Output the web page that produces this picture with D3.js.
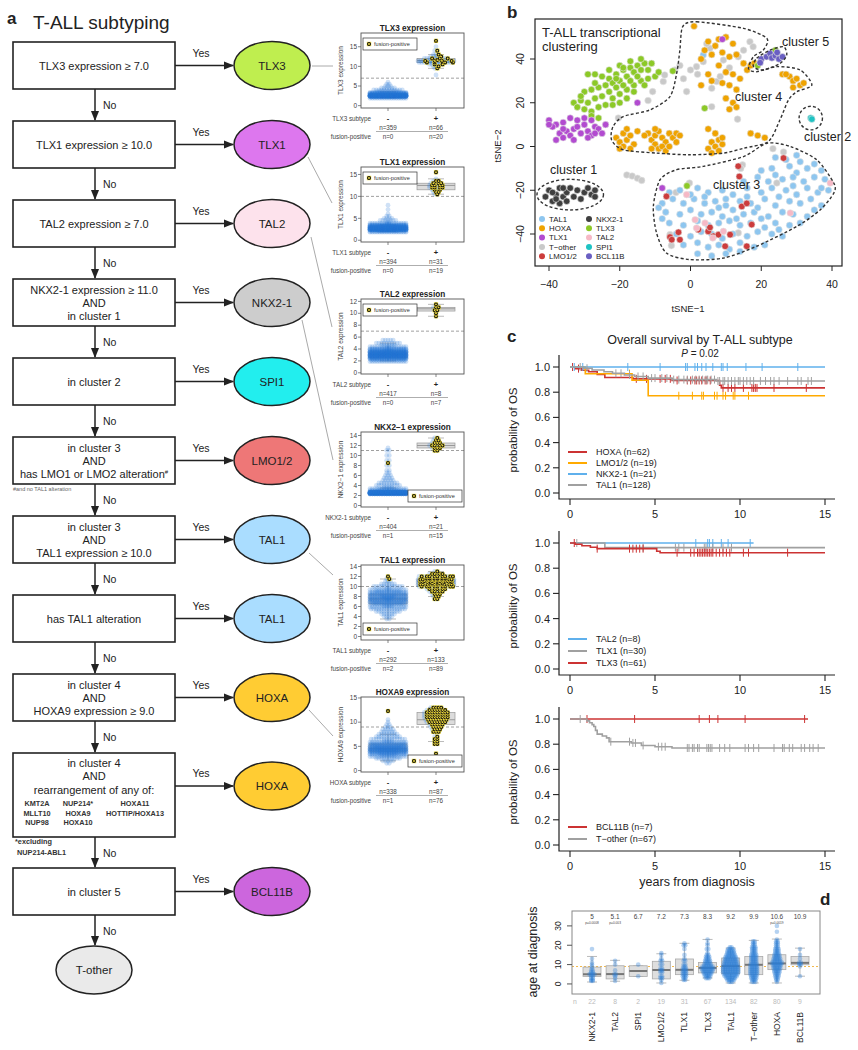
<!DOCTYPE html>
<html><head><meta charset="utf-8">
<script src="https://cdn.jsdelivr.net/npm/d3@7"></script>
<style>body{margin:0;background:#fff}svg{display:block;font-family:"Liberation Sans",Arial,sans-serif}</style>
</head><body><svg id="c" width="858" height="1050"></svg>
<script>
// ================= DATA =================
// Panel a: flowchart
const flowRules = [["TLX3 expression \u2265 7.0"],["TLX1 expression \u2265 10.0"],["TAL2 expression \u2265 7.0"],
  ["NKX2-1 expression \u2265 11.0","AND","in cluster 1"],["in cluster 2"],["in cluster 3","AND","has LMO1 or LMO2 alteration#"],
  ["in cluster 3","AND","TAL1 expression \u2265 10.0"],["has TAL1 alteration"],["in cluster 4","AND","HOXA9 expression \u2265 9.0"],
  ["in cluster 4","AND","rearrangement of any of:"],["in cluster 5"]];
const flowSubtypes = ["TLX3","TLX1","TAL2","NKX2-1","SPI1","LMO1/2","TAL1","TAL1","HOXA","HOXA","BCL11B"];
const flowGenes = [["KMT2A","NUP214*","HOXA11"],["MLLT10","HOXA9","HOTTIP/HOXA13"],["NUP98","HOXA10",""]];
const ellipseColors = {"TLX3":"#bfee4f","TLX1":"#dd77ee","TAL2":"#fde2ec","NKX2-1":"#cdcdcd","SPI1":"#22eeee",
  "LMO1/2":"#ee7777","TAL1":"#aaddff","HOXA":"#ffcc33","BCL11B":"#cc66dd","T-other":"#eaeaea"};

// Panel a: expression plots
const exprGenes = ["TLX3","TLX1","TAL2","NKX2\u22121","TAL1","HOXA9"];
const exprSubtype = ["TLX3 subtype","TLX1 subtype","TAL2 subtype","NKX2-1 subtype","TAL1 subtype","HOXA subtype"];
const exprThreshold = [7,10,7,11,10,9];
const exprTicks = [[0,5,10,15],[0,5,10,15],[0,2,4,6,8,10,12],[0,2,4,6,8,10,12,14],[0,2,4,6,8,10,12,14],[0,5,10,15]];
const nNeg = [359,394,417,404,292,338], nPos = [66,31,8,21,133,87];
const fusNeg = [0,0,0,1,2,1], fusPos = [20,19,7,15,89,76];
// bins: [expression value, count, fusion-positive count]
const negBins = [
 [[2,30,0],[2.5,200,0],[3,80,0],[3.5,25,0],[4,12,0],[4.5,6,0],[5,3,0],[5.5,2,0],[6,1,0]],
 [[2,40,0],[2.5,150,0],[3,120,0],[3.5,50,0],[4,18,0],[4.5,7,0],[5,4,0],[5.5,2,0],[6,1,0],[7,1,0],[8,1,0]],
 [[2,30,0],[2.5,80,0],[3,120,0],[3.5,100,0],[4,50,0],[4.5,22,0],[5,10,0],[5.5,5,0]],
 [[2.5,300,0],[3,40,0],[3.5,20,0],[4,10,0],[4.5,8,0],[5,5,0],[5.5,4,0],[6,3,0],[6.5,2,0],[7,2,0],[8,2,0],[8.5,1,1],[9,2,0],[10,2,0],[11,2,0],[11.5,1,0]],
 [[3.5,2,0],[4,4,0],[4.5,6,0],[5,10,0],[5.5,14,0],[6,20,0],[6.5,28,0],[7,34,0],[7.5,36,0],[8,38,0],[8.5,32,0],[9,26,0],[9.5,18,0],[10,12,0],[10.5,6,0],[11,3,0],[11.5,2,1],[12,1,1]],
 [[1.5,2,0],[2,5,0],[2.5,10,0],[3,22,0],[3.5,40,0],[4,55,0],[4.5,58,0],[5,45,0],[5.5,30,0],[6,20,0],[6.5,14,0],[7,10,0],[7.5,8,0],[8,6,0],[8.5,5,0],[9,3,0],[9.5,2,0],[10,1,0],[10.5,1,0],[12.3,1,1]]
];
const posBins = [
 [[7.8,1,0],[9.5,2,1],[10,3,1],[10.5,6,2],[11,14,4],[11.5,18,5],[12,10,3],[12.5,5,1],[13,3,1],[14,2,1],[15,1,0],[16.5,1,1]],
 [[10.5,2,1],[11,3,2],[11.5,4,2],[12,6,4],[12.5,6,4],[13,5,3],[13.5,3,2],[14,1,0],[15.5,1,1]],
 [[9.5,1,1],[10,1,1],[10.5,2,2],[11,3,2],[11.5,1,1]],
 [[11,2,2],[11.5,4,3],[12,6,4],[12.5,4,3],[13,3,2],[13.5,2,1]],
 [[7.5,2,2],[8,3,2],[8.5,4,3],[9,6,4],[9.5,8,5],[10,14,9],[10.5,22,15],[11,28,19],[11.5,24,16],[12,14,9],[12.5,6,4],[13,2,1]],
 [[3.5,1,1],[5.5,2,2],[6,2,2],[6.5,2,2],[7,2,1],[8,3,3],[8.5,4,3],[9,5,4],[9.5,6,5],[10,8,7],[10.5,9,8],[11,10,9],[11.5,10,9],[12,10,9],[12.5,8,7],[13,5,4]]
];

// Panel b: tSNE coordinates per subtype
const tsneTother = [[0,35],[1.7,36.5],[3.6,38.8],[5.5,44.9],[4.6,47],[9.3,39.5],[13.5,41],[16.8,47.9],[17.7,45.6],[7.4,29.7],[6,26.6],[8.4,32],[-7.7,29.7],[-1.1,25.1],[-4.4,35],[-7.3,32.7],[-10.7,25.1],[-20.4,13],[6,18.2],[13.3,12.5],[23.3,-1],[26.3,-2.5],[-18,-13],[-16.5,-13.5],[-15,-14.5],[-13.8,-15.5],[-0.3,-16.7],[-4.1,-21],[-5.8,-40.3],[-5.4,-45.3],[13.5,-39.5],[24.4,-16.7],[14.7,-8.4],[14.2,-10],[2,33],[-2,31],[11,36],[-12,21],[15,44],[-3,37]];
const tsneTAL1 = [[24,-5],[27,-6],[31,-7],[35,-8],[20,-11],[23,-10],[28,-9],[33,-10],[37,-11],[30,-12],[15,-16],[19,-14],[22,-16],[26,-15],[29,-14],[32,-16],[35,-14],[38,-15],[24,-13],
 [-6,-21],[-3,-20],[2,-19],[5,-21],[9,-20],[12,-22],[16,-19],[20,-21],[23,-19],[27,-20],[30,-22],[33,-19],[36,-21],[39,-20],[25,-23],
 [-8,-26],[-5,-24],[-2,-26],[1,-24],[4,-26],[7,-25],[10,-27],[14,-25],[17,-26],[21,-24],[24,-27],[28,-25],[31,-26],[34,-24],[37,-27],
 [-7,-30],[-3,-31],[0,-29],[3,-31],[6,-30],[9,-32],[12,-29],[15,-31],[18,-30],[22,-32],[26,-30],[29,-31],[33,-32],[19,-28],
 [-6,-35],[-2,-36],[2,-34],[5,-36],[8,-35],[11,-34],[14,-36],[17,-35],[21,-37],[24,-35],[28,-36],[31,-35],
 [-4,-40],[0,-41],[3,-39],[6,-40],[9,-42],[12,-40],[16,-41],[19,-39],[23,-40],[26,-41],
 [-2,-45],[2,-44],[5,-46],[8,-45],[11,-47],[14,-44],[18,-46],[21,-45],[2,-49],[6,-50],[10,-49],[14,-48],
 [-9,-28],[-8,-33],[0,-22],[4,-23],[8,-28],[13,-33],[16,-23],[20,-33],[25,-38],[29,-18],[35,-29],[30,-4],[3.6,41.8],[37,-19],[10,-24]];
const tsneHOXA = [[-21,4],[-20,2],[-19,6],[-18,3],[-17,5],[-16,1],[-19,0],[-20,-1],[-17,-1],[-15,7],[-18,8],
 [-12,6],[-11,3],[-10,5],[-9,7],[-8,4],[-7,2],[-6,6],[-5,4],[-4,2],[-10,1],[-9,-1],[-8,0],[-7,-2],[-11,-1],[-6,0],[-4,6],[-3,5],[-13,5],[-10,8],
 [5,8],[7,6],[8,3],[6,2],[9,1],[7,0],[5,-1],[8,-2],[6,-3],[9,4],
 [1,55],[5,48],[8,49],[10,50],[12,47],[7,46],[4,44],[3,40],[6,42],[9,43],[11,41],[13,42],[15,38],[8,37],[10,34],[12,33],[14,31],[5,33],[3,28],[6,30],[9,29],[11,28],[13,26],[16,35],[17,37],[18,38],
 [10,22],[12,20],[13,18],[11,17],[28,32],[29,30],[30,31],[31,28],[32,29],[29,27],[17,6],[19,5],[21,4],[26,33],[27,33]];
const tsneTLX3 = [[-29,33],[-27,33],[-25,32],[-23,31],[-21,33],[-19,35],[-17,36],[-15,37],[-13,38],[-11,38],[-14,35],[-16,34],[-18,32],[-20,30],[-22,29],[-24,28],[-26,27],[-28,26],[-30,25],[-31,21],[-33,20],[-32,18],[-30,17],[-28,16],[-26,18],[-24,19],[-22,22],[-20,24],[-18,26],[-16,28],[-14,30],[-12,31],[-10,32],[-15,32],[-17,30],[-19,28],[-21,27],[-23,25],[-25,23],[-27,22],[-29,20],[-31,23],[-27,29],[-23,35],[-20,37],[-17,39],[-14,40],[-12,35],[-9,34],[-13,28],[-16,25],[-18,22],[-20,20],[-22,19],[-26,13],[-28,14],[-19,36],[-21,31],[-5,34.5],[-1,-18],[19,37],[24,44],[4,17.5]];
const tsneTLX1 = [[-40,12],[-38,10],[-36,11],[-34,13],[-32,12],[-30,13],[-28,12],[-27,9],[-29,7],[-31,6],[-33,8],[-35,7],[-37,6],[-39,9],[-36,4],[-34,5],[-32,9],[-30,10],[-28,5],[-26,8],[-24,10],[-25,6],[-38,3],[-33,3],[-36,8],[-40,10],[-29,4],[-27,6],[9,49],[-15,20],[-8,-19]];
const tsneNKX21 = [[-41,-23],[-40,-20],[-39,-25],[-38,-22],[-37,-19],[-37,-26],[-36,-23],[-35,-21],[-35,-25],[-34,-19],[-33,-23],[-32,-20],[-31,-24],[-30,-21],[-29,-19],[-28,-22],[-27,-20],[-39,-21],[-38,-24],[-36,-19],[-27,-23]];
const tsneLMO = [[13.5,-9],[13.8,-13.7],[26.3,-5.3],[-6.8,-22.8],[14.5,-27.4],[15.9,-26],[17.3,-35.7],[-5.8,-41.4],[-3.4,-39.2],[-3,-42.6],[2.2,-38],[5,-38.8],[6.5,-41],[7.9,-40.3],[11.2,-40.3],[15.9,-45.6],[9.8,-45.6],[-5.3,-42.6],[5.5,-37]];
const tsneTAL2 = [[-1.1,-22],[39.5,-16.7],[28.2,-30.4],[1.3,-33.5],[4.1,-35],[6.3,-41.8],[9.3,-38.8],[1.7,-37.3]];
const tsneSPI1 = [[34,13],[34.3,12.5]];
const tsneBCL11B = [[20,40],[21.5,41],[22.5,42.5],[23,40.5],[24,41.5],[25,40],[26,41],[24.5,43],[19.7,38.3]];
const cluster3 = [[-8.6,-15.2],[-3.9,-10.6],[3.6,-9.1],[15,-4.6],[21.6,1.5],[28.2,0],[35.7,-6.1],[40.5,-16.7],[40.5,-21.3],[36.7,-28.9],[30.1,-36.5],[18.7,-45.6],[9.3,-51],[-0.2,-51.7],[-6.8,-48.7],[-9.6,-39.5],[-10.5,-27.4]];
const cluster4 = [[-2.2,54.8],[1.7,57],[15,54],[21.6,49.4],[20.6,44.1],[17.8,41.1],[16.4,35.7],[18.7,34.2],[24.4,36.5],[31,35],[34.3,28.1],[30.1,25.1],[27.7,21.3],[25.3,12.2],[22,2.3],[15,-0.8],[9.3,-3],[-0.2,-3.8],[-9.6,-3],[-19,-1.5],[-22.3,3],[-21.9,9.1],[-19,13.7],[-11.5,16.7],[-5.8,22.8],[-3.9,33.5],[-3,44.1]];
const cluster5 = [[17.8,36.5],[18.7,40.3],[22.5,44.1],[26.3,45.6],[27.2,41.8],[25.3,38],[20.6,35]];
const cluster1 = {cx:-34, cy:-22, rx:9.4, ry:7};
const cluster2 = {cx:34, cy:13, rx:3.3, ry:5.4};

// Panel c: Kaplan-Meier (steps [time, survival], censor times)
const km1 = [
 {name:"HOXA (n=62)", color:"#cc3333", end:15, steps:[[0,1],[0.3,0.987],[0.7,0.974],[1.1,0.962],[1.6,0.94],[2.05,0.917],[3.7,0.906],[6.0,0.893],[8.8,0.855],[8.9,0.834]],
  cens:[0.15,0.5,3.9,4.5,5.3,5.6,5.9,6.3,6.9,7.1,7.35,7.45,7.6,7.75,7.95,8.05,8.25,9.0,9.3,9.5,9.7,10.2,10.7,10.8,10.9,11.0,12.0,13.9]},
 {name:"LMO1/2 (n=19)", color:"#ffaa00", end:15, steps:[[0,1],[0.9,0.947],[3.65,0.895],[4.6,0.772]],
  cens:[3.5,6.4,7.2,7.75,7.85,8.5,8.65,9.0,9.15,9.6,9.7,10.5]},
 {name:"NKX2-1 (n=21)", color:"#5fb0ec", end:15, steps:[[0,1]],
  cens:[0.25,0.75,3.4,5.3,6.8,6.9,7.35,7.5,7.75,8.0,8.4,8.9,9.0,9.25,10.35,11.3,13.4]},
 {name:"TAL1 (n=128)", color:"#a0a0a0", end:15, steps:[[0,1],[0.8,0.99],[1.3,0.976],[2.0,0.962],[2.5,0.95],[3.2,0.937],[3.8,0.925],[4.6,0.912],[6.0,0.9],[8.6,0.889]],
  cens:[0.6,1.0,2.7,3.0,3.5,4.0,4.3,4.8,5.0,5.4,5.7,6.1,6.4,6.7,6.9,7.2,7.4,7.6,7.8,8.0,8.1,8.3,8.5,8.7,8.8,9.0,9.1,9.3,9.5,9.7,9.9,10.0,10.2,10.4,10.6,10.8,11.2,11.5,11.8,12.0,12.3,12.8,13.4,13.6,14.0,14.2]}
];
const km2 = [
 {name:"TAL2 (n=8)", color:"#5fb0ec", end:10.8, steps:[[0,1]], cens:[7.4,8.1,8.2,8.4,8.9,9.3,10.6]},
 {name:"TLX1 (n=30)", color:"#a0a0a0", end:15, steps:[[0,1],[2.05,0.963]], cens:[0.4,4.3,6.2,6.4,6.7,7.9,8.0,8.4,9.0,9.5]},
 {name:"TLX3 (n=61)", color:"#cc3333", end:15, steps:[[0,1],[0.3,0.99],[0.7,0.978],[1.2,0.966],[1.6,0.955],[5.1,0.935],[5.3,0.923]],
  cens:[0.25,1.6,3.5,3.7,3.9,4.1,4.3,6.3,7.1,7.3,7.5,7.6,7.7,7.8,7.9,8.0,8.1,8.2,8.3,8.4,8.6,8.8,9.0,9.2,9.4,10.2,10.5,12.8]}
];
const km3 = [
 {name:"BCL11B (n=7)", color:"#cc3333", end:14, steps:[[0,1]], cens:[1.0,3.8,7.6,8.2,8.7,10.3,13.8]},
 {name:"T\u2212other (n=67)", color:"#a0a0a0", end:15, steps:[[0,1],[1.0,0.985],[1.15,0.97],[1.3,0.955],[1.4,0.94],[1.5,0.91],[1.6,0.88],[1.9,0.865],[2.15,0.85],[2.3,0.82],[3.6,0.81],[4.2,0.79],[5.0,0.78],[6.0,0.77]],
  cens:[0.6,2.4,3.5,3.7,3.85,4.3,5.2,5.4,5.6,6.9,7.0,7.2,7.3,7.5,7.6,8.05,8.15,8.25,8.35,8.8,9.1,9.4,10.3,10.5,10.8,11.1,12.0,12.5,12.6,12.9,13.1,13.6,13.8,14.1,14.3,14.6]}
];
const kmXTicks = [0,5,10,15];
const kmYTicks = [0,0.2,0.4,0.6,0.8,1.0];

// Panel d: age at diagnosis
const ageCats = ["NKX2-1","TAL2","SPI1","LMO1/2","TLX1","TLX3","TAL1","T\u2212other","HOXA","BCL11B"];
const ageN = [22,8,2,19,31,67,134,82,80,9];
const ageMedian = [5,5.1,6.7,7.2,7.3,8.3,9.2,9.9,10.6,10.9];
const ageMedLabel = ["5","5.1","6.7","7.2","7.3","8.3","9.2","9.9","10.6","10.9"];
const ageP = ["p=0.0008","p=0.003","","","","","","","p=0.0019",""];
const ageQ1 = [3.9,2.6,3.9,2.6,4.8,5.7,5.3,4.8,7.4,9.9];
const ageQ3 = [8.7,9.4,9.4,11.7,12.9,11.1,13.4,14.2,15.1,14.2];
const ageLo = [1.0,1.4,3.9,0.5,1.9,3.1,0.5,0.5,0.5,4];
const ageHi = [14.2,12.2,9.4,15.6,21,23,18.5,22.5,23.2,18.5];
const ageOverall = 9;
const ageTicks = [0,10,20,30];
const ageBins = [
 [[1.5,2],[2,2],[3,2],[4,2],[5,4],[6,2],[7,2],[8,1],[9,1],[10,1],[11,1],[13,1],[18,1]],
 [[1.5,1],[3,1],[4,1],[5,2],[7,1],[10,1],[12,1]],
 [[4,1],[10,1]],
 [[0.5,1],[2,1],[3,2],[4,2],[6,2],[7,2],[8,2],[10,2],[12,2],[13,1],[15,1],[16,1]],
 [[2,2],[3,2],[4,3],[5,3],[6,3],[7,3],[8,3],[9,2],[10,2],[12,2],[13,1],[15,1],[18,1],[20,2],[21,1]],
 [[3,3],[4,4],[5,5],[6,6],[7,7],[8,8],[9,7],[10,5],[11,4],[12,4],[13,3],[14,3],[15,2],[16,1],[18,2],[20,1],[21,1],[23,1]],
 [[1,3],[2,5],[3,6],[4,8],[5,9],[6,10],[7,10],[8,10],[9,10],[10,9],[11,9],[12,8],[13,8],[14,7],[15,6],[16,5],[17,5],[18,4],[19,2]],
 [[1,3],[2,3],[3,4],[4,4],[5,5],[6,5],[7,5],[8,5],[9,5],[10,5],[11,4],[12,4],[13,4],[14,4],[15,4],[16,3],[17,3],[18,3],[19,3],[20,2],[21,2],[22,2]],
 [[1,1],[2,2],[3,2],[4,3],[5,3],[6,4],[7,4],[8,5],[9,5],[10,6],[11,7],[12,5],[13,5],[14,4],[15,4],[16,3],[17,3],[18,3],[19,2],[20,2],[21,2],[22,2],[23,1],[27,1],[30,1]],
 [[4,1],[9,1],[10,2],[11,2],[13,1],[15,1],[18,1]]
];

// ================= DRAWING =================
const svg = d3.select("#c");
const defs = svg.append("defs");
defs.append("marker").attr("id","arr").attr("viewBox","0 0 10 10").attr("refX",9).attr("refY",5)
  .attr("markerWidth",7).attr("markerHeight",7).attr("orient","auto-start-reverse")
  .append("path").attr("d","M0,1 L10,5 L0,9 Z").attr("fill","#222");

function txt(g,x,y,s,o={}){
  const t=g.append("text").attr("x",x).attr("y",y).text(s)
   .attr("font-size",o.size||10).attr("fill",o.fill||"#222").attr("text-anchor",o.anchor||"start");
  if(o.weight) t.attr("font-weight",o.weight);
  if(o.rot!==undefined) t.attr("transform",`rotate(${o.rot},${x},${y})`);
  return t;
}

// ---------- Panel a: flowchart ----------
const A = svg.append("g");
txt(A,7,24,"a",{size:17,weight:"bold"});
txt(A,33,29,"T-ALL subtyping",{size:19});
const boxTops=[42,121,200,279,358,437,516,595,674,753,868];
const bx=13,bw=162,ecx=272,erx=38,ery=24;
flowRules.forEach((lines,i)=>{
  const t=boxTops[i], h=(i===9?84:47), cy=t+h/2;
  A.append("rect").attr("x",bx).attr("y",t).attr("width",bw).attr("height",h)
    .attr("fill","#fff").attr("stroke","#222").attr("stroke-width",1.6);
  if(i===9){
    txt(A,94,767,lines[0],{size:11,anchor:"middle"});
    txt(A,94,780,lines[1],{size:11,anchor:"middle"});
    txt(A,94,794,lines[2],{size:11,anchor:"middle"});
    const cols=[37,78,135];
    flowGenes.forEach((row,r)=>row.forEach((gname,c)=>{
      if(gname) txt(A,cols[c],806+r*9.5,gname,{size:7.3,anchor:"middle",weight:"bold",fill:"#333"});
    }));
  } else if(lines.length===1){
    txt(A,94,cy+4,lines[0],{size:11,anchor:"middle"});
  } else {
    lines.forEach((l,k)=>{
      const tt=txt(A,94,cy-9+k*13,l.replace("#",""),{size:11,anchor:"middle"});
      if(l.endsWith("#")) tt.append("tspan").attr("font-size",6).attr("dy",-4).text("#");
    });
  }
  const ey=(i===9?786:cy);
  const sub=flowSubtypes[i];
  A.append("line").attr("x1",bx+bw).attr("y1",ey).attr("x2",ecx-erx-1).attr("y2",ey)
    .attr("stroke","#222").attr("stroke-width",1.5).attr("marker-end","url(#arr)");
  txt(A,201,ey-9,"Yes",{size:10.5,anchor:"middle"});
  A.append("ellipse").attr("cx",ecx).attr("cy",ey).attr("rx",erx).attr("ry",ery)
    .attr("fill",ellipseColors[sub]).attr("stroke","#222").attr("stroke-width",1.5);
  txt(A,ecx,ey+4,sub,{size:11.5,anchor:"middle"});
  const nextTop = i<10 ? boxTops[i+1] : 946;
  A.append("line").attr("x1",95).attr("y1",t+h).attr("x2",95).attr("y2",nextTop-1)
    .attr("stroke","#222").attr("stroke-width",1.5).attr("marker-end","url(#arr)");
  txt(A,103,(t+h+nextTop)/2+4,"No",{size:10.5});
});
A.append("ellipse").attr("cx",94).attr("cy",970).attr("rx",38).attr("ry",24)
  .attr("fill",ellipseColors["T-other"]).attr("stroke","#222").attr("stroke-width",1.5);
txt(A,94,974,"T-other",{size:11.5,anchor:"middle"});
txt(A,13,491,"#and no TAL1 alteration",{size:5.5,fill:"#666"});
txt(A,15,844,"*excluding",{size:7.3,weight:"bold",fill:"#333"});
txt(A,17,855,"NUP214-ABL1",{size:7.3,weight:"bold",fill:"#333"});

// connector lines ellipse -> expression plots
const conn=[[312,66,333,66],[308,157,332,203],[311,237,332,327],[302,320,333,460],[309,553,333,575],[309,710,333,736]];
conn.forEach(c=>A.append("line").attr("x1",c[0]).attr("y1",c[1]).attr("x2",c[2]).attr("y2",c[3])
  .attr("stroke","#aaa").attr("stroke-width",1));

// ---------- expression plots ----------
const exprTop=[33,167,299,432,565,697];
const exprDom=[[-0.6,18.5],[-0.4,16.7],[-0.2,12.4],[-0.3,14.7],[-0.7,14.3],[-0.3,15.2]];
const exprLeg=["tl","tl","tl","br","bl","br"];
const pL=361,pR=464,pH=75,xNeg=388,xPos=436;
function fusionMark(g,x,y,s){
  g.append("rect").attr("x",x-s).attr("y",y-s).attr("width",2*s).attr("height",2*s).attr("fill","#f0dc3a");
  g.append("circle").attr("cx",x).attr("cy",y).attr("r",s*0.68).attr("fill","none").attr("stroke","#111").attr("stroke-width",1.05);
}
function boxStats(vals){
  vals.sort(d3.ascending);
  const q1=d3.quantile(vals,0.25),q2=d3.quantile(vals,0.5),q3=d3.quantile(vals,0.75),iqr=q3-q1;
  const lo=d3.min(vals.filter(v=>v>=q1-1.5*iqr)),hi=d3.max(vals.filter(v=>v<=q3+1.5*iqr));
  return {q1,q2,q3,lo,hi};
}
exprGenes.forEach((gene,i)=>{
  const g=svg.append("g");
  const top=exprTop[i];
  const y=d3.scaleLinear().domain(exprDom[i]).range([top+pH,top]);
  txt(g,(pL+pR)/2,top-2,gene+" expression",{size:8.2,anchor:"middle",weight:"bold"});
  [[negBins[i],xNeg],[posBins[i],xPos]].forEach(([bins,cx])=>{
    const vals=[]; bins.forEach(b=>{for(let k=0;k<b[1];k++)vals.push(b[0]);});
    const s=boxStats(vals);
    g.append("line").attr("x1",cx).attr("x2",cx).attr("y1",y(s.lo)).attr("y2",y(s.hi)).attr("stroke","#aaa").attr("stroke-width",0.8);
    [s.lo,s.hi].forEach(v=>g.append("line").attr("x1",cx-8).attr("x2",cx+8).attr("y1",y(v)).attr("y2",y(v)).attr("stroke","#aaa").attr("stroke-width",0.8));
    g.append("rect").attr("x",cx-19).attr("width",38).attr("y",y(s.q3)).attr("height",Math.max(1,y(s.q1)-y(s.q3)))
      .attr("fill","#dcdcdc").attr("stroke","#999").attr("stroke-width",0.7);
    g.append("line").attr("x1",cx-19).attr("x2",cx+19).attr("y1",y(s.q2)).attr("y2",y(s.q2)).attr("stroke","#999").attr("stroke-width",1);
  });
  g.append("line").attr("x1",pL).attr("x2",pR).attr("y1",y(exprThreshold[i])).attr("y2",y(exprThreshold[i]))
    .attr("stroke","#888").attr("stroke-dasharray","3,2").attr("stroke-width",0.8);
  const fus=[];
  [[negBins[i],xNeg],[posBins[i],xPos]].forEach(([bins,cx])=>{
    bins.forEach(b=>{
      const [v,c,f]=b; const per=16; const rows=Math.ceil(c/per);
      for(let k=0;k<c;k++){
        const r=Math.floor(k/per), col=k%per, nin=Math.min(per,c-r*per);
        const sp=nin>1?Math.min(2.6,36/(nin-1)):0;
        const px=cx+(col-(nin-1)/2)*sp;
        const vv=v+(rows>1?(r-(rows-1)/2)*(0.45/rows):0);
        const py=y(vv);
        g.append("circle").attr("cx",px).attr("cy",py).attr("r",2.4).attr("fill","#2677d6").attr("fill-opacity",0.22);
        if(f>0 && Math.floor((k+1)*f/c)>Math.floor(k*f/c)) fus.push([px,py]);
      }
    });
  });
  fus.forEach(p=>fusionMark(g,p[0],p[1],2.1));
  g.append("rect").attr("x",pL).attr("y",top).attr("width",pR-pL).attr("height",pH).attr("fill","none").attr("stroke","#555").attr("stroke-width",0.9);
  exprTicks[i].forEach(t=>{
    g.append("line").attr("x1",pL-3).attr("x2",pL).attr("y1",y(t)).attr("y2",y(t)).attr("stroke","#555").attr("stroke-width",0.7);
    txt(g,pL-4,y(t)+2.2,t,{size:6.5,anchor:"end",fill:"#444"});
  });
  txt(g,343,top+pH/2,gene+" expression",{size:6.5,anchor:"middle",rot:-90,fill:"#444"});
  [xNeg,xPos].forEach(x=>g.append("line").attr("x1",x).attr("x2",x).attr("y1",top+pH).attr("y2",top+pH+3).attr("stroke","#555").attr("stroke-width",0.7));
  txt(g,371,top+88,exprSubtype[i],{size:6.3,anchor:"end",fill:"#444"});
  txt(g,xNeg,top+88,"-",{size:7.5,anchor:"middle",weight:"bold"});
  txt(g,xPos,top+88,"+",{size:7.5,anchor:"middle",weight:"bold"});
  txt(g,xNeg,top+96.5,"n="+nNeg[i],{size:6.3,anchor:"middle",fill:"#444"});
  txt(g,xPos,top+96.5,"n="+nPos[i],{size:6.3,anchor:"middle",fill:"#444"});
  g.append("line").attr("x1",376).attr("x2",448).attr("y1",top+98.5).attr("y2",top+98.5).attr("stroke","#777").attr("stroke-width",0.6);
  txt(g,371,top+105.5,"fusion-positive",{size:6.3,anchor:"end",fill:"#444"});
  txt(g,xNeg,top+105.5,"n="+fusNeg[i],{size:6.3,anchor:"middle",fill:"#444"});
  txt(g,xPos,top+105.5,"n="+fusPos[i],{size:6.3,anchor:"middle",fill:"#444"});
  const lw=54,lh=12; let lx,ly;
  if(exprLeg[i]==="tl"){lx=pL+2;ly=top+5;} else if(exprLeg[i]==="br"){lx=pR-lw-2;ly=top+pH-lh-5;} else {lx=pL+2;ly=top+pH-lh-5;}
  g.append("rect").attr("x",lx).attr("y",ly).attr("width",lw).attr("height",lh).attr("fill","#fff").attr("stroke","#333").attr("stroke-width",0.7);
  fusionMark(g,lx+6,ly+lh/2,2.2);
  txt(g,lx+11,ly+lh/2+2,"fusion-positive",{size:5.6,fill:"#333"});
});

// ---------- Panel b: tSNE ----------
const B=svg.append("g");
const tx=d3.scaleLinear().domain([-40,40]).range([549,832]);
const ty=d3.scaleLinear().domain([-40,40]).range([234,59]);
txt(B,507,18,"b",{size:17,weight:"bold"});
const cl=d3.line().x(d=>tx(d[0])).y(d=>ty(d[1])).curve(d3.curveCardinalClosed.tension(0.2));
const tsneGroups=[
 ["T\u2212other",tsneTother,"#c9c9c9"],["TAL1",tsneTAL1,"#8ec6ef"],["HOXA",tsneHOXA,"#efa300"],["TLX3",tsneTLX3,"#8cc927"],
 ["TLX1",tsneTLX1,"#b24bd0"],["NKX2-1",tsneNKX21,"#3f3f3f"],["LMO1/2",tsneLMO,"#cc3c3c"],["TAL2",tsneTAL2,"#f6b9c6"],
 ["SPI1",tsneSPI1,"#1ec3c3"],["BCL11B",tsneBCL11B,"#6a5fc2"]];
tsneGroups.forEach(([n,pts,col])=>{
  B.selectAll(null).data(pts).enter().append("circle").attr("cx",d=>tx(d[0])).attr("cy",d=>ty(d[1])).attr("r",3.3)
   .attr("fill",col).attr("stroke","#e4e4e4").attr("stroke-width",0.6);
});
[cluster3,cluster4,cluster5].forEach(c=>B.append("path").attr("d",cl(c)).attr("fill","none").attr("stroke","#333").attr("stroke-width",1.4).attr("stroke-dasharray","3,2.2"));
[cluster1,cluster2].forEach(c=>B.append("ellipse").attr("cx",tx(c.cx)).attr("cy",ty(c.cy))
  .attr("rx",tx(c.cx+c.rx)-tx(c.cx)).attr("ry",ty(c.cy)-ty(c.cy+c.ry))
  .attr("fill","none").attr("stroke","#333").attr("stroke-width",1.4).attr("stroke-dasharray","3,2.2"));
B.append("rect").attr("x",535).attr("y",19).attr("width",307).attr("height",247).attr("fill","none").attr("stroke","#222").attr("stroke-width",1.2);
[-40,-20,0,20,40].forEach(v=>{
  const lab=v<0?"\u2212"+Math.abs(v):String(v);
  B.append("line").attr("x1",tx(v)).attr("x2",tx(v)).attr("y1",266).attr("y2",271).attr("stroke","#222");
  txt(B,tx(v),288,lab,{size:10.5,anchor:"middle"});
  B.append("line").attr("x1",530).attr("x2",535).attr("y1",ty(v)).attr("y2",ty(v)).attr("stroke","#222");
  txt(B,524,ty(v),lab,{size:10.5,anchor:"middle",rot:-90});
});
txt(B,501,146,"tSNE\u22122",{size:9.5,anchor:"middle",rot:-90});
txt(B,688,312,"tSNE\u22121",{size:9.5,anchor:"middle"});
txt(B,542,37,"T-ALL transcriptional",{size:13});
txt(B,542,51,"clustering",{size:13});
txt(B,782,46,"cluster 5",{size:12.5});
txt(B,735,101,"cluster 4",{size:12.5});
txt(B,804,141,"cluster 2",{size:12.5});
txt(B,550,174,"cluster 1",{size:12.5});
txt(B,713,189,"cluster 3",{size:12.5});
const legOrder=[["TAL1","#8ec6ef"],["HOXA","#efa300"],["TLX1","#b24bd0"],["T\u2212other","#c9c9c9"],["LMO1/2","#cc3c3c"],
  ["NKX2-1","#3f3f3f"],["TLX3","#8cc927"],["TAL2","#f6b9c6"],["SPI1","#1ec3c3"],["BCL11B","#6a5fc2"]];
legOrder.forEach((d,k)=>{
  const col=Math.floor(k/5), row=k%5;
  const lx=542+col*47, ly=219+row*9.3;
  B.append("circle").attr("cx",lx).attr("cy",ly).attr("r",3).attr("fill",d[1]);
  txt(B,lx+7,ly+2.8,d[0],{size:7.8});
});

// ---------- Panel c: KM ----------
const C=svg.append("g");
txt(C,507,342,"c",{size:17,weight:"bold"});
const kx=d3.scaleLinear().domain([0,15]).range([570,825]);
txt(C,700,344,"Overall survival by T-ALL subtype",{size:12.5,anchor:"middle"});
const pt=txt(C,700,357,"",{size:10,anchor:"middle"});
pt.append("tspan").attr("font-style","italic").text("P");
pt.append("tspan").text(" = 0.02");
function drawKM(series,yOne,legY){
  const ky=d3.scaleLinear().domain([0,1]).range([yOne+126,yOne]);
  const axisY=yOne+132;
  C.append("path").attr("d",`M559,${yOne-12}V${axisY}H835`).attr("fill","none").attr("stroke","#222").attr("stroke-width",1.2);
  kmYTicks.forEach(v=>{
    C.append("line").attr("x1",553).attr("x2",559).attr("y1",ky(v)).attr("y2",ky(v)).attr("stroke","#222").attr("stroke-width",1.1);
    txt(C,550,ky(v)+4,v.toFixed(1),{size:11,anchor:"end"});
  });
  kmXTicks.forEach(v=>{
    C.append("line").attr("x1",kx(v)).attr("x2",kx(v)).attr("y1",axisY).attr("y2",axisY+6).attr("stroke","#222").attr("stroke-width",1.1);
    txt(C,kx(v),axisY+19,v,{size:11,anchor:"middle"});
  });
  txt(C,517,yOne+63,"probability of OS",{size:11.5,anchor:"middle",rot:-90});
  const line=d3.line().x(d=>kx(d[0])).y(d=>ky(d[1])).curve(d3.curveStepAfter);
  series.forEach(s=>{
    const pts=s.steps.concat([[s.end,s.steps[s.steps.length-1][1]]]);
    C.append("path").attr("d",line(pts)).attr("fill","none").attr("stroke",s.color).attr("stroke-width",1.6);
    s.cens.forEach(t=>{
      let sv=1; s.steps.forEach(st=>{if(st[0]<=t)sv=st[1];});
      C.append("line").attr("x1",kx(t)).attr("x2",kx(t)).attr("y1",ky(sv)-4).attr("y2",ky(sv)+4).attr("stroke",s.color).attr("stroke-width",1);
    });
  });
  series.forEach((s,k)=>{
    const ly=legY[k];
    C.append("line").attr("x1",568).attr("x2",587).attr("y1",ly).attr("y2",ly).attr("stroke",s.color).attr("stroke-width",2);
    txt(C,596,ly+3.3,s.name,{size:9});
  });
}
drawKM(km1,367,[452,463,474,485]);
drawKM(km2,543,[639,651,663]);
drawKM(km3,719,[827,839]);
txt(C,697,886,"years from diagnosis",{size:12.5,anchor:"middle"});

// ---------- Panel d: age ----------
const D=svg.append("g");
txt(D,820,905,"d",{size:17,weight:"bold"});
const dx=d3.scalePoint().domain(ageCats).range([592,800]);
const dy=d3.scaleLinear().domain([-5.2,37.7]).range([994,911]);
D.append("line").attr("x1",572).attr("x2",820).attr("y1",dy(ageOverall)).attr("y2",dy(ageOverall)).attr("stroke","#f2b84b").attr("stroke-dasharray","2,2").attr("stroke-width",1);
ageCats.forEach((c,i)=>{
  const cx=dx(c);
  D.append("line").attr("x1",cx).attr("x2",cx).attr("y1",dy(ageLo[i])).attr("y2",dy(ageHi[i])).attr("stroke","#aaa").attr("stroke-width",0.8);
  [ageLo[i],ageHi[i]].forEach(v=>D.append("line").attr("x1",cx-5).attr("x2",cx+5).attr("y1",dy(v)).attr("y2",dy(v)).attr("stroke","#aaa").attr("stroke-width",0.8));
  D.append("rect").attr("x",cx-9).attr("width",18).attr("y",dy(ageQ3[i])).attr("height",dy(ageQ1[i])-dy(ageQ3[i]))
    .attr("fill","#dedede").attr("stroke","#aaa").attr("stroke-width",0.8);
  D.append("line").attr("x1",cx-9).attr("x2",cx+9).attr("y1",dy(ageMedian[i])).attr("y2",dy(ageMedian[i])).attr("stroke","#777").attr("stroke-width",2);
  ageBins[i].forEach(([v,c])=>{
    for(let k=0;k<c;k++){
      D.append("circle").attr("cx",cx+(k-(c-1)/2)*1.7).attr("cy",dy(v)).attr("r",2.3).attr("fill","#2a7fd6").attr("fill-opacity",0.35);
    }
  });
  txt(D,cx,919,ageMedLabel[i],{size:6.5,anchor:"middle",fill:"#444"});
  if(ageP[i]) txt(D,cx,923.5,ageP[i],{size:3.2,anchor:"middle",fill:"#444"});
  txt(D,cx,1004,ageN[i],{size:6.8,anchor:"middle",fill:"#bbb"});
  txt(D,cx+3,1012,c,{size:8.5,anchor:"end",rot:-90});
});
D.append("rect").attr("x",572).attr("y",911).attr("width",248).attr("height",83).attr("fill","none").attr("stroke","#888").attr("stroke-width",1);
txt(D,575,1004,"n",{size:6.8,anchor:"middle",fill:"#bbb"});
ageTicks.forEach(v=>{
  D.append("line").attr("x1",567).attr("x2",572).attr("y1",dy(v)).attr("y2",dy(v)).attr("stroke","#555");
  txt(D,561,dy(v),v,{size:8.5,anchor:"middle",rot:-90});
});
txt(D,537,952,"age at diagnosis",{size:12.5,anchor:"middle",rot:-90});
</script></body></html>
